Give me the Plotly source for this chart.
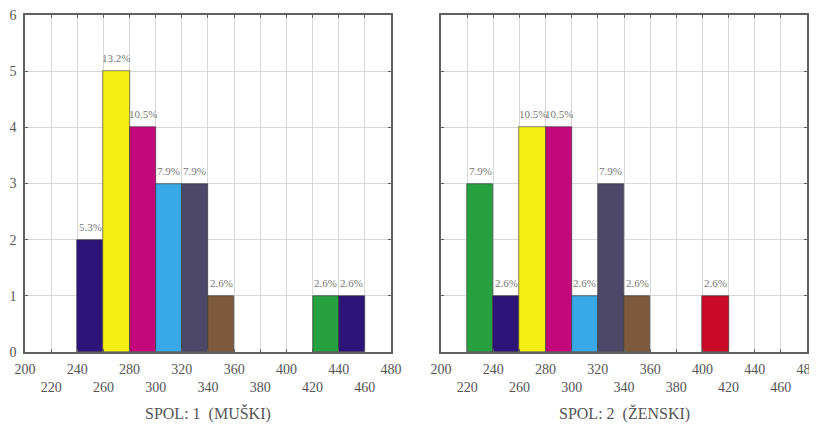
import plotly.graph_objects as go

# Panel 1: SPOL 1 (MUŠKI)
m_bin_start = [240, 260, 280, 300, 320, 340, 420, 440]
m_counts = [2, 5, 4, 3, 3, 1, 1, 1]
m_labels = ["5.3%", "13.2%", "10.5%", "7.9%", "7.9%", "2.6%", "2.6%", "2.6%"]
m_colors = ["#2d1478", "#f4ee14", "#c2087a", "#38a8e6", "#4d4868", "#7d5a3e", "#27a040", "#2d1478"]

# Panel 2: SPOL 2 (ŽENSKI)
z_bin_start = [220, 240, 260, 280, 300, 320, 340, 400]
z_counts = [3, 1, 4, 4, 1, 3, 1, 1]
z_labels = ["7.9%", "2.6%", "10.5%", "10.5%", "2.6%", "7.9%", "2.6%", "2.6%"]
z_colors = ["#27a040", "#2d1478", "#f4ee14", "#c2087a", "#38a8e6", "#4d4868", "#7d5a3e", "#c80a28"]

bin_width = 20
tick_vals = [200, 220, 240, 260, 280, 300, 320, 340, 360, 380, 400, 420, 440, 460, 480]
tick_text = ["200", "<br>220", "240", "<br>260", "280", "<br>300", "320", "<br>340",
             "360", "<br>380", "400", "<br>420", "440", "<br>460", "480"]
panel_titles = ["SPOL: 1  (MUŠKI)", "SPOL: 2  (ŽENSKI)"]

FONT = "Liberation Serif"
TXT = "#555555"

fig = go.Figure()
annotations = []
for i, (xs, ys, lab, cols) in enumerate([(m_bin_start, m_counts, m_labels, m_colors),
                                          (z_bin_start, z_counts, z_labels, z_colors)]):
    ax = "" if i == 0 else "2"
    fig.add_trace(go.Bar(
        x=xs, y=ys, width=bin_width, offset=0,
        marker=dict(color=cols, line=dict(color="#333333", width=0.6)),
        xaxis="x" + ax, yaxis="y" + ax, showlegend=False, hoverinfo="skip",
    ))
    for x0, y0, t in zip(xs, ys, lab):
        annotations.append(dict(
            x=x0 + bin_width / 2, y=y0, xref="x" + ax, yref="y" + ax, text=t,
            showarrow=False, yanchor="middle", yshift=13,
            font=dict(family=FONT, size=11, color="#777777"),
        ))
    annotations.append(dict(
        text=panel_titles[i], xref=("x" + ax) + " domain", yref="paper", x=0.5, y=-0.183,
        showarrow=False, yanchor="middle", font=dict(family=FONT, size=16, color=TXT),
    ))

axis_common = dict(
    showline=True, linecolor="#606060", linewidth=1.5, mirror="ticks",
    showgrid=True, gridcolor="#d8d8d8", gridwidth=1, zeroline=False,
    ticks="inside", ticklen=3, tickcolor="#606060", automargin=False,
    ticklabeloverflow="allow",
    tickfont=dict(family=FONT, size=14, color=TXT),
)

fig.update_layout(
    width=817, height=424,
    margin=dict(l=17, r=18, t=7, b=80),
    paper_bgcolor="white", plot_bgcolor="white",
    bargap=0,
    xaxis=dict(domain=[0, 0.468], range=[200, 480], tickvals=tick_vals, ticktext=tick_text,
               anchor="y", ticklabelstandoff=3, **axis_common),
    xaxis2=dict(domain=[0.532, 1], range=[200, 480], tickvals=tick_vals, ticktext=tick_text,
                anchor="y2", ticklabelstandoff=3, **axis_common),
    yaxis=dict(range=[0, 6], dtick=1, anchor="x", ticklabelstandoff=4, **axis_common),
    yaxis2=dict(range=[0, 6], dtick=1, anchor="x2", showticklabels=False, **axis_common),
    annotations=annotations,
)

fig.write_html("out.html")
